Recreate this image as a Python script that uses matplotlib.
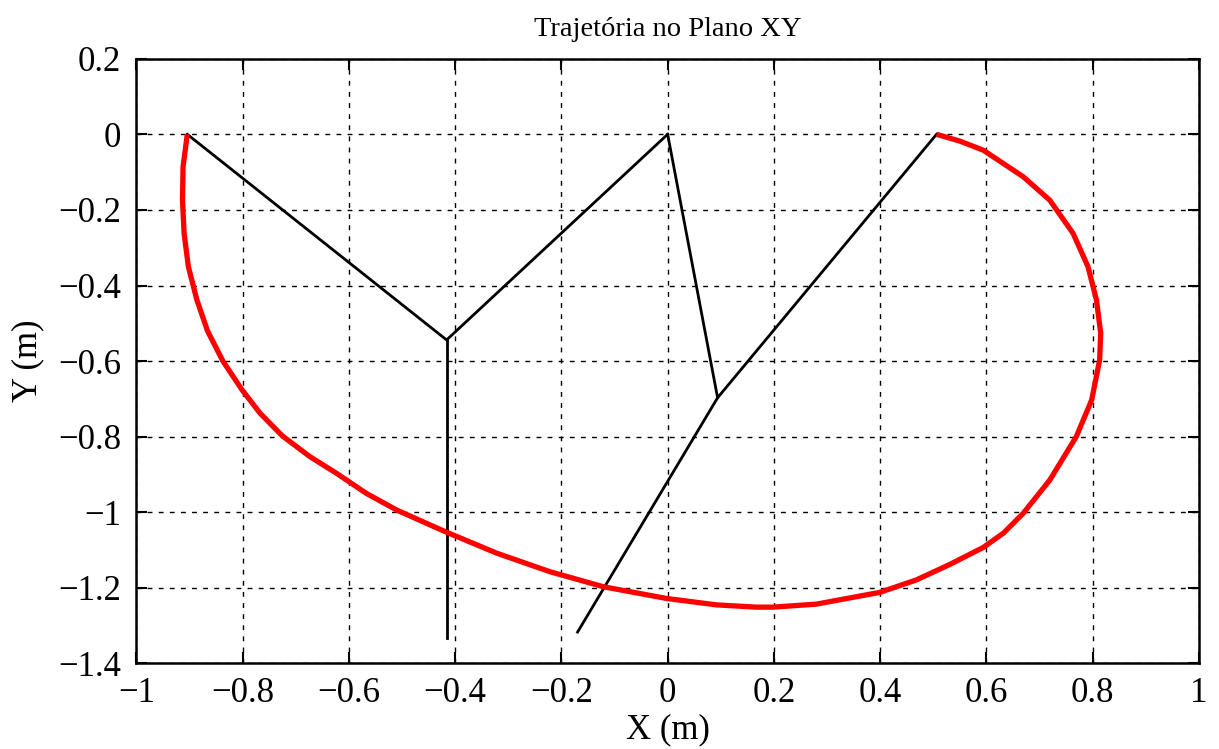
import matplotlib
matplotlib.use("Agg")
import matplotlib.pyplot as plt
from matplotlib.ticker import FuncFormatter, MultipleLocator

plt.rcParams['font.family'] = ['Liberation Serif', 'DejaVu Serif']

# Red trajectory of the end effector
traj_x = [-0.904, -0.912, -0.913, -0.910, -0.902, -0.886, -0.866, -0.837, -0.801, -0.767,
          -0.725, -0.673, -0.623, -0.567, -0.510, -0.419, -0.322, -0.222, -0.121, -0.002,
          0.092, 0.167, 0.198, 0.280, 0.399, 0.468, 0.531, 0.594, 0.632, 0.669,
          0.719, 0.769, 0.798, 0.813, 0.815, 0.807, 0.791, 0.763, 0.719, 0.669,
          0.594, 0.550, 0.506]
traj_y = [0.000, -0.086, -0.174, -0.262, -0.350, -0.438, -0.520, -0.600, -0.676, -0.738,
          -0.798, -0.853, -0.897, -0.950, -0.994, -1.051, -1.108, -1.157, -1.197, -1.228,
          -1.245, -1.251, -1.251, -1.243, -1.212, -1.179, -1.138, -1.093, -1.055, -1.003,
          -0.915, -0.800, -0.703, -0.597, -0.526, -0.438, -0.350, -0.262, -0.174, -0.112,
          -0.042, -0.018, 0.000]

# Arm configuration 1 (start)
arm1_x = [-0.904, -0.416, 0.000]
arm1_y = [0.000, -0.544, 0.000]
arm1_tail_x = [-0.416, -0.416]
arm1_tail_y = [-0.544, -1.333]

# Arm configuration 2 (end)
arm2_x = [0.000, 0.094, 0.506]
arm2_y = [0.000, -0.697, 0.000]
arm2_tail_x = [0.094, -0.1695]
arm2_tail_y = [-0.697, -1.317]

fig = plt.figure(figsize=(12.19, 7.49), dpi=100)
ax = fig.add_axes([0.1118, 0.1142, 0.9836 - 0.1118, 0.9216 - 0.1142])

ax.plot(arm1_x, arm1_y, color='black', lw=2.0, solid_joinstyle='miter')
ax.plot(arm1_tail_x, arm1_tail_y, color='black', lw=2.0)
ax.plot(arm2_x, arm2_y, color='black', lw=2.0, solid_joinstyle='miter')
ax.plot(arm2_tail_x, arm2_tail_y, color='black', lw=2.0)
ax.plot(traj_x, traj_y, color='red', lw=3.8, solid_capstyle='butt',
        solid_joinstyle='round')

ax.set_xlim(-1, 1)
ax.set_ylim(-1.4, 0.2)
ax.xaxis.set_major_locator(MultipleLocator(0.2))
ax.yaxis.set_major_locator(MultipleLocator(0.2))

def fmt(v, pos):
    s = '%g' % round(v, 6)
    if s == '-0':
        s = '0'
    return s.replace('-', '\u2212')

ax.xaxis.set_major_formatter(FuncFormatter(fmt))
ax.yaxis.set_major_formatter(FuncFormatter(fmt))

ax.grid(True, color='black', linestyle=(0, (3.5, 4.5)), linewidth=1.0)
ax.tick_params(direction='in', length=8, width=1.5, top=True, right=True,
               labelsize=25)
ax.tick_params(axis='x', pad=10)
ax.tick_params(axis='y', pad=11)
for sp in ax.spines.values():
    sp.set_linewidth(1.8)

ax.set_xlabel('X (m)', fontsize=25, labelpad=2)
ax.set_ylabel('Y (m)', fontsize=25, labelpad=10)
ax.set_title('Trajetória no Plano XY', fontsize=20.5, pad=16)

fig.savefig('out.png', dpi=100)
